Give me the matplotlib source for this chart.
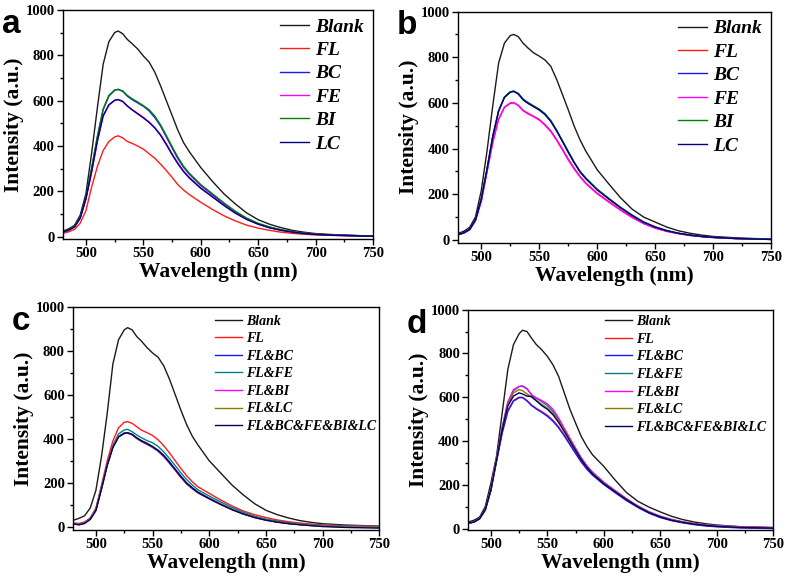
import numpy as np
import matplotlib
matplotlib.use('Agg')
import matplotlib.pyplot as plt
from matplotlib.ticker import MultipleLocator

plt.rcParams['font.family'] = 'Liberation Serif'
plt.rcParams['font.weight'] = 'bold'

# wavelength grid (nm)
wl = [480, 485, 490, 495, 500, 505, 510, 515, 520, 525, 528, 532, 536, 540, 545, 550,
      555, 560, 565, 570, 575, 580, 585, 590, 600, 610, 620, 630, 640, 650, 660, 670,
      680, 690, 700, 720, 750]

# panel a
blank_a = [25, 35, 50, 95, 190, 370, 570, 760, 860, 900, 907, 895, 870, 852, 828, 797, 770, 725, 665, 600, 535, 470, 415, 375, 305, 245, 190, 145, 105, 75, 55, 40, 28, 20, 14, 8, 3]
fl_a = [15, 22, 32, 60, 115, 220, 310, 380, 420, 440, 445, 436, 420, 412, 400, 386, 366, 346, 320, 292, 262, 230, 206, 186, 152, 121, 93, 70, 51, 38, 28, 20, 15, 11, 8, 5, 2]
bc_a = [22, 30, 45, 85, 170, 300, 440, 560, 620, 645, 650, 641, 620, 605, 590, 575, 555, 525, 488, 440, 392, 345, 306, 276, 226, 186, 146, 110, 80, 58, 42, 30, 22, 16, 11, 7, 3]
fe_a = [20, 28, 42, 80, 165, 285, 420, 530, 580, 600, 604, 596, 576, 561, 544, 526, 506, 481, 450, 410, 366, 326, 290, 262, 216, 178, 140, 106, 78, 56, 40, 29, 21, 15, 11, 6, 3]
bi_a = [23, 31, 46, 87, 172, 304, 444, 563, 623, 647, 649, 643, 623, 609, 594, 578, 560, 532, 493, 446, 398, 351, 311, 280, 230, 190, 150, 113, 82, 59, 43, 31, 22, 16, 11, 7, 3]
lc_a = [21, 29, 43, 82, 168, 288, 424, 534, 582, 602, 605, 597, 577, 560, 542, 524, 504, 479, 447, 406, 362, 322, 287, 259, 213, 176, 138, 104, 76, 55, 39, 28, 20, 14, 10, 6, 2]

# panel b
blank_b = [28, 38, 55, 100, 215, 390, 590, 775, 862, 895, 900, 890, 862, 842, 820, 805, 788, 760, 703, 637, 570, 500, 440, 390, 307, 245, 185, 135, 100, 78, 56, 40, 29, 21, 15, 9, 3]
fl_b = [22, 30, 45, 85, 170, 300, 430, 530, 580, 598, 600, 590, 568, 556, 542, 528, 505, 478, 440, 398, 355, 315, 280, 250, 205, 168, 132, 100, 72, 52, 38, 28, 20, 15, 11, 6, 2]
bc_b = [23, 31, 46, 87, 178, 310, 455, 565, 625, 648, 652, 640, 615, 600, 585, 570, 550, 520, 478, 432, 385, 340, 300, 270, 220, 180, 142, 108, 78, 56, 40, 29, 21, 15, 11, 6, 2]
fe_b = [22, 30, 44, 84, 168, 298, 428, 528, 582, 600, 602, 588, 566, 553, 540, 525, 502, 474, 436, 394, 350, 311, 277, 247, 202, 165, 130, 98, 71, 51, 37, 27, 19, 14, 10, 5, 2]
bi_b = [23, 31, 46, 88, 180, 312, 457, 567, 626, 649, 650, 642, 618, 603, 588, 573, 553, 523, 481, 435, 388, 342, 302, 272, 222, 182, 143, 109, 79, 57, 41, 29, 21, 15, 11, 6, 2]
lc_b = [23, 31, 46, 87, 177, 309, 454, 564, 624, 647, 651, 639, 614, 599, 584, 569, 549, 519, 477, 431, 384, 339, 299, 269, 219, 179, 141, 107, 77, 56, 40, 29, 21, 15, 11, 6, 2]

# panel c
blank_c = [30, 38, 50, 85, 165, 320, 515, 740, 850, 895, 905, 895, 865, 845, 815, 790, 770, 730, 670, 600, 530, 465, 412, 372, 300, 245, 190, 145, 105, 75, 55, 40, 28, 20, 14, 8, 3]
fl_c = [18, 15, 22, 40, 85, 190, 300, 390, 450, 475, 478, 470, 455, 440, 428, 415, 395, 368, 335, 300, 265, 232, 205, 182, 152, 122, 95, 72, 55, 42, 31, 23, 17, 12, 9, 5, 2]
flbc_c = [14, 10, 16, 35, 75, 175, 280, 362, 410, 426, 428, 420, 405, 392, 380, 365, 348, 325, 295, 262, 230, 200, 178, 158, 130, 104, 80, 60, 44, 32, 23, 16, 11, 7, 4, 1, -2]
flfe_c = [15, 12, 18, 38, 80, 180, 285, 370, 422, 440, 443, 432, 418, 405, 392, 382, 365, 340, 310, 278, 245, 215, 190, 168, 140, 113, 88, 66, 48, 35, 26, 19, 13, 9, 6, 3, 1]
flbi_c = [15, 11, 17, 36, 77, 177, 282, 364, 410, 424, 425, 418, 402, 388, 375, 360, 343, 318, 288, 256, 224, 195, 173, 154, 127, 101, 78, 58, 42, 30, 21, 15, 10, 6, 3, 0, -3]
fllc_c = [14, 11, 16, 35, 76, 176, 281, 363, 409, 424, 426, 419, 401, 389, 376, 362, 344, 320, 290, 258, 226, 196, 174, 155, 128, 102, 79, 59, 43, 31, 22, 15, 10, 6, 3, 0, -3]
flall_c = [13, 9, 15, 33, 73, 172, 278, 360, 408, 425, 427, 420, 404, 391, 378, 364, 346, 322, 292, 260, 228, 198, 176, 156, 128, 102, 78, 58, 42, 30, 21, 14, 9, 5, 1, -3, -6]

# panel d
blank_d = [30, 38, 52, 100, 207, 330, 527, 726, 840, 890, 906, 900, 870, 842, 817, 787, 748, 695, 620, 545, 482, 421, 375, 337, 284, 222, 165, 125, 98, 76, 56, 41, 30, 22, 16, 9, 4]
fl_d = [25, 30, 45, 85, 175, 310, 440, 540, 585, 600, 600, 585, 565, 550, 535, 518, 495, 465, 428, 388, 348, 308, 275, 248, 205, 168, 132, 100, 73, 53, 39, 29, 21, 15, 11, 6, 3]
flbc_d = [24, 29, 44, 84, 172, 305, 435, 535, 582, 598, 598, 583, 562, 547, 531, 513, 490, 460, 423, 383, 343, 304, 271, 244, 201, 164, 128, 97, 70, 50, 36, 26, 18, 12, 8, 3, 0]
flfe_d = [25, 30, 45, 86, 180, 320, 460, 575, 630, 648, 652, 640, 610, 595, 580, 562, 535, 500, 455, 410, 365, 322, 285, 256, 210, 172, 135, 102, 75, 55, 40, 30, 22, 16, 12, 7, 4]
flbi_d = [26, 31, 46, 87, 182, 322, 462, 578, 634, 650, 650, 638, 612, 598, 585, 570, 545, 505, 458, 412, 367, 324, 287, 258, 212, 174, 137, 104, 77, 57, 42, 31, 23, 17, 13, 8, 5]
fllc_d = [25, 30, 45, 85, 178, 315, 455, 565, 620, 635, 630, 615, 600, 585, 568, 550, 525, 490, 448, 405, 360, 318, 282, 253, 208, 170, 134, 101, 74, 54, 39, 29, 21, 15, 11, 6, 3]
flall_d = [25, 30, 45, 85, 176, 312, 450, 560, 605, 620, 615, 605, 603, 585, 562, 545, 520, 485, 443, 400, 357, 315, 280, 250, 205, 168, 132, 100, 73, 53, 38, 28, 20, 14, 10, 5, 2]

labels_ab = ['Blank', 'FL', 'BC', 'FE', 'BI', 'LC']
colors_ab = ['#1a1a1a', '#ff1a1a', '#1a1aff', '#ff00ff', '#008000', '#000080']
labels_cd = ['Blank', 'FL', 'FL&BC', 'FL&FE', 'FL&BI', 'FL&LC', 'FL&BC&FE&BI&LC']
colors_cd = ['#1a1a1a', '#ff1a1a', '#1a1aff', '#008080', '#ff00ff', '#808000', '#000060']

fig = plt.figure(figsize=(7.87, 5.81), dpi=100)


def make_panel(rect, series, labels, colors, letter, leg_anchor, leg_size, hlen, lspace, ymin):
    ax = fig.add_axes(rect)
    for ys, lab, c in zip(series, labels, colors):
        ax.plot(wl, ys, color=c, lw=1.0, label=lab)
    ax.set_xlim(480, 750)
    ax.set_ylim(ymin, 1000)
    ax.xaxis.set_major_locator(MultipleLocator(50))
    ax.xaxis.set_minor_locator(MultipleLocator(25))
    ax.yaxis.set_major_locator(MultipleLocator(200))
    ax.yaxis.set_minor_locator(MultipleLocator(100))
    ax.tick_params(which='both', direction='out', top=False, right=False,
                   labelsize=10.5, width=1.0, pad=2)
    ax.tick_params(which='major', length=4)
    ax.tick_params(which='minor', length=2.5)
    for t in ax.get_xticklabels() + ax.get_yticklabels():
        t.set_fontweight('bold')
    for s in ax.spines.values():
        s.set_linewidth(1.0)
    ax.set_xlabel('Wavelength (nm)', fontsize=15.5, fontweight='bold', labelpad=1)
    ax.set_ylabel('Intensity (a.u.)', fontsize=15.5, fontweight='bold', labelpad=1)
    ax.legend(loc='upper left', bbox_to_anchor=leg_anchor, frameon=False,
              prop={'family': 'Liberation Serif', 'weight': 'bold', 'style': 'italic',
                    'size': leg_size},
              handlelength=hlen, handletextpad=0.3, labelspacing=lspace,
              borderpad=0, borderaxespad=0)
    fig.text(rect[0] - 0.078, rect[1] + rect[3] + 0.002, letter, fontsize=24,
             fontweight='bold', family='Liberation Sans', va='top', ha='left')
    return ax


make_panel([0.080, 0.589, 0.394, 0.394], [blank_a, fl_a, bc_a, fe_a, bi_a, lc_a],
           labels_ab, colors_ab, 'a', (0.70, 0.965), 14, 1.5, 0.3, -9)
make_panel([0.582, 0.582, 0.398, 0.398], [blank_b, fl_b, bc_b, fe_b, bi_b, lc_b],
           labels_ab, colors_ab, 'b', (0.703, 0.965), 14, 1.5, 0.3, -13)
make_panel([0.093, 0.088, 0.389, 0.384],
           [blank_c, fl_c, flbc_c, flfe_c, flbi_c, fllc_c, flall_c],
           labels_cd, colors_cd, 'c', (0.464, 0.965), 10, 1.9, 0.33, -14)
make_panel([0.595, 0.088, 0.3875, 0.379],
           [blank_d, fl_d, flbc_d, flfe_d, flbi_d, fllc_d, flall_d],
           labels_cd, colors_cd, 'd', (0.449, 0.975), 10, 1.9, 0.33, -6)

plt.savefig('out.png', dpi=100)
